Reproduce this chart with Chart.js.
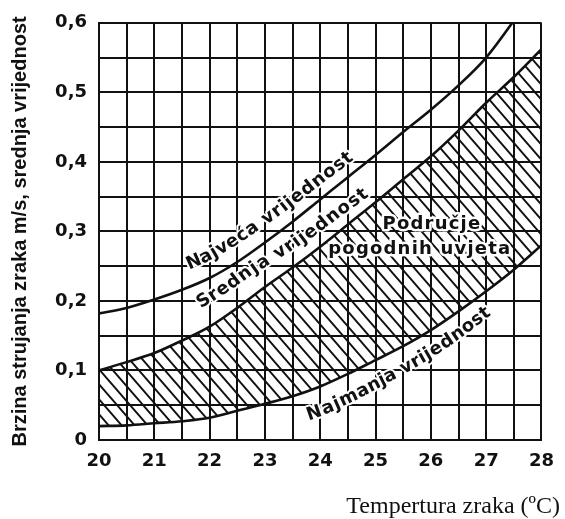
<!DOCTYPE html>
<html><head><meta charset="utf-8">
<script src="https://cdn.jsdelivr.net/npm/chart.js@4.4.1/dist/chart.umd.min.js"></script>
<style>html,body{margin:0;padding:0;background:#fff;}#wrap{width:565px;height:519px;}</style>
</head><body><div id="wrap"><canvas id="c" width="565" height="519"></canvas></div>
<script>
// ---- data ----
const temperatures = [20,20.5,21,21.5,22,22.5,23,23.5,24,24.5,25,25.5,26,26.5,27,27.5,28];
const najvecaVrijednost  = [0.182,0.190,0.202,0.216,0.233,0.256,0.284,0.314,0.346,0.378,0.410,0.443,0.475,0.510,0.550,0.603,0.660];
const srednjaVrijednost  = [0.100,0.112,0.125,0.143,0.163,0.190,0.220,0.248,0.278,0.310,0.342,0.375,0.408,0.445,0.485,0.522,0.562];
const najmanjaVrijednost = [0.020,0.021,0.024,0.027,0.032,0.042,0.052,0.063,0.077,0.095,0.115,0.135,0.158,0.185,0.214,0.245,0.280];
const xTickLabels = ['20','21','22','23','24','25','26','27','28'];
const yTickLabels = ['0','0,1','0,2','0,3','0,4','0,5','0,6'];
const curveLabels = ['Najveća vrijednost','Srednja vrijednost','Najmanja vrijednost'];
const regionLabels = ['Područje','pogodnih uvjeta'];
const xTitle = 'Tempertura zraka (ºC)';
const yTitle = 'Brzina strujanja zraka m/s, srednja vrijednost';

const INK = '#111';

function makeHatch() {
  const w = 13, h = 15;
  const c = document.createElement('canvas'); c.width = w; c.height = h;
  const g = c.getContext('2d');
  g.strokeStyle = INK; g.lineWidth = 1.9;
  g.beginPath();
  for (const dx of [-w, 0, w]) { g.moveTo(dx - w, -h); g.lineTo(dx + 2*w, 2*h); }
  g.stroke();
  return g.createPattern(c, 'repeat');
}

function pts(arr) { return temperatures.map((t, i) => ({x: t, y: arr[i]})); }

// label placement along each curve (start in data units, offsets in px from the curve)
const curveLabelSpecs = [
  {dataset: 0, text: curveLabels[0], startT: 21.72, off0: 16,  off1: 10,  spacing: 0.8},
  {dataset: 1, text: curveLabels[1], startT: 22.04, off0: 20,  off1: 9,   spacing: 1.0},
  {dataset: 2, text: curveLabels[2], startT: 23.6,  off0: -28, off1: -22, spacing: 0.0}
];
const regionLabelSpecs = [
  {text: regionLabels[0], t: 26.02, v: 0.303},
  {text: regionLabels[1], t: 25.80, v: 0.267}
];

function curvePath(meta) {
  const d = meta.data, out = [];
  for (let i = 0; i < d.length - 1; i++) {
    const a = d[i], b = d[i+1];
    const c1x = a.cp2x ?? a.x, c1y = a.cp2y ?? a.y, c2x = b.cp1x ?? b.x, c2y = b.cp1y ?? b.y;
    for (let k = 0; k < 12; k++) {
      const t = k / 12, u = 1 - t;
      out.push({
        x: u*u*u*a.x + 3*u*u*t*c1x + 3*u*t*t*c2x + t*t*t*b.x,
        y: u*u*u*a.y + 3*u*u*t*c1y + 3*u*t*t*c2y + t*t*t*b.y
      });
    }
  }
  const l = d[d.length-1]; out.push({x: l.x, y: l.y});
  let s = 0; out[0].s = 0;
  for (let i = 1; i < out.length; i++) { s += Math.hypot(out[i].x-out[i-1].x, out[i].y-out[i-1].y); out[i].s = s; }
  return out;
}
function at(path, s) {
  for (let i = 1; i < path.length; i++) {
    if (path[i].s >= s) {
      const a = path[i-1], b = path[i], f = (s - a.s) / Math.max(1e-6, b.s - a.s);
      return {x: a.x + (b.x-a.x)*f, y: a.y + (b.y-a.y)*f};
    }
  }
  return path[path.length-1];
}

const labelPlugin = {
  id: 'curveLabels',
  afterDatasetsDraw(chart) {
    const ctx = chart.ctx, xs = chart.scales.x, ys = chart.scales.y;
    ctx.save();
    ctx.font = 'bold 18px "DejaVu Sans"';
    ctx.textAlign = 'center'; ctx.textBaseline = 'alphabetic';
    ctx.lineJoin = 'round';
    curveLabelSpecs.forEach(spec => {
      const path = curvePath(chart.getDatasetMeta(spec.dataset));
      const x0 = xs.getPixelForValue(spec.startT);
      let s = 0;
      for (let i = 1; i < path.length; i++) { if (path[i].x >= x0) { s = path[i].s; break; } }
      const chars = [...spec.text], n = chars.length;
      chars.forEach((ch, idx) => {
        const w = ctx.measureText(ch).width;
        const m = s + w / 2;
        const p = at(path, m), p1 = at(path, m - 4), p2 = at(path, m + 4);
        const ang = Math.atan2(p2.y - p1.y, p2.x - p1.x);
        const off = spec.off0 + (spec.off1 - spec.off0) * idx / (n - 1);
        ctx.save();
        ctx.translate(p.x, p.y); ctx.rotate(ang);
        ctx.strokeStyle = '#fff'; ctx.lineWidth = 4; ctx.strokeText(ch, 0, -off);
        ctx.fillStyle = INK; ctx.fillText(ch, 0, -off);
        ctx.restore();
        s += w + spec.spacing;
      });
    });
    ctx.letterSpacing = '1.2px';
    regionLabelSpecs.forEach(r => {
      const x = xs.getPixelForValue(r.t), y = ys.getPixelForValue(r.v);
      ctx.strokeStyle = '#fff'; ctx.lineWidth = 5; ctx.strokeText(r.text, x, y);
      ctx.fillStyle = INK; ctx.fillText(r.text, x, y);
    });
    ctx.restore();
  },
  afterDraw(chart) {
    const ctx = chart.ctx;
    ctx.save();
    ctx.font = '24px "Liberation Serif"';
    ctx.fillStyle = INK; ctx.textAlign = 'right'; ctx.textBaseline = 'middle';
    ctx.fillText(xTitle, chart.width - 5, chart.height - 12);
    ctx.restore();
  }
};

const lineStyle = {borderColor: INK, borderWidth: 2.6, pointRadius: 0, cubicInterpolationMode: 'monotone', clip: 0};

new Chart(document.getElementById('c'), {
  type: 'line',
  data: {
    datasets: [
      Object.assign({label: curveLabels[0], data: pts(najvecaVrijednost), fill: false}, lineStyle),
      Object.assign({label: curveLabels[1], data: pts(srednjaVrijednost), fill: '+1', backgroundColor: makeHatch()}, lineStyle),
      Object.assign({label: curveLabels[2], data: pts(najmanjaVrijednost), fill: false}, lineStyle)
    ]
  },
  options: {
    responsive: false, animation: false, devicePixelRatio: 1,
    layout: {padding: {top: 22, right: 18, bottom: 0, left: 0}},
    plugins: {legend: {display: false}, tooltip: {enabled: false}},
    scales: {
      x: {
        type: 'linear', min: 20, max: 28,
        afterFit: s => { s.height = 79; },
        grid: {color: INK, lineWidth: 2, drawTicks: false},
        border: {color: INK, width: 2},
        ticks: {
          stepSize: 0.5, autoSkip: false, maxRotation: 0, padding: 11, color: INK,
          font: {family: '"DejaVu Sans"', size: 18, weight: 'bold'},
          callback: v => Number.isInteger(v) ? xTickLabels[v - 20] : ''
        }
      },
      y: {
        min: 0, max: 0.6,
        afterFit: s => { s.width = 99; },
        grid: {color: INK, lineWidth: 2, drawTicks: false},
        border: {color: INK, width: 2},
        ticks: {
          stepSize: 0.05, autoSkip: false, padding: 12, color: INK,
          font: {family: '"DejaVu Sans"', size: 18, weight: 'bold'},
          callback: v => { const k = Math.round(v / 0.05); return k % 2 === 0 ? yTickLabels[k / 2] : ''; }
        },
        title: {
          display: true, text: yTitle, color: INK,
          font: {family: '"Liberation Sans"', size: 20, weight: 'bold'},
          padding: {top: 8, bottom: 0}
        }
      }
    }
  },
  plugins: [labelPlugin]
});
</script></body></html>
